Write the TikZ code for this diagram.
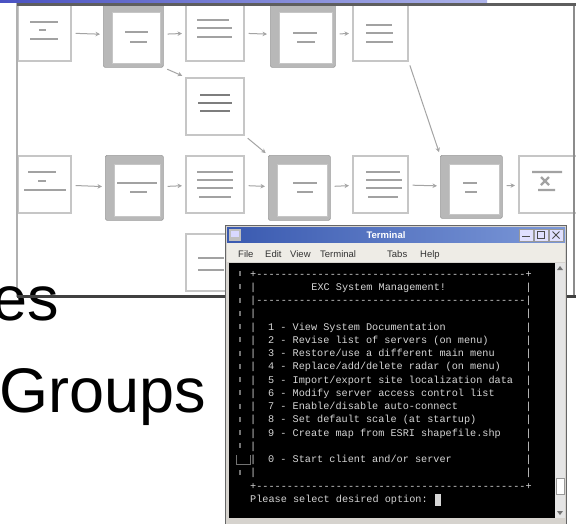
\documentclass[tikz,border=0pt]{standalone}
\usepackage{fontspec}
\setmainfont{Liberation Sans}
\setmonofont{Liberation Mono}
\usetikzlibrary{arrows.meta}

\definecolor{boxline}{HTML}{C6C6C6}
\definecolor{shadowgray}{HTML}{B8B8B8}
\definecolor{bargray}{HTML}{A2A2A2}
\definecolor{bardark}{HTML}{7E7E7E}
\definecolor{arrowgray}{HTML}{A4A4A4}
\definecolor{termtext}{HTML}{D6D6D6}
\definecolor{winframe}{HTML}{D6D3CE}
\definecolor{menubg}{HTML}{EEECE6}
\definecolor{titleA}{HTML}{3A5AB0}
\definecolor{titleB}{HTML}{7C98D8}
\definecolor{slideblueA}{HTML}{4A52C2}
\definecolor{slideblueB}{HTML}{AEB4EA}
\definecolor{paneltop}{HTML}{5E5E5E}
\definecolor{panelbot}{HTML}{404040}
\definecolor{panelside}{HTML}{B0B0B0}

\tikzset{
  plainbox/.style 2 args={draw=boxline, line width=1.6pt, fill=white, inner sep=0pt,
    anchor=north west, minimum width=#1, minimum height=#2},
  shadowbox/.style 2 args={draw=shadowgray!85!black, line width=0.6pt, fill=shadowgray, inner sep=0pt,
    rounded corners=1.5pt, anchor=north west, minimum width=#1, minimum height=#2},
  innerface/.style={fill=white, draw=boxline, line width=0.6pt},
  bar/.style={draw=bargray, line width=2.4pt},
  darkbar/.style={draw=bardark, line width=2.6pt},
  conn/.style={draw=arrowgray, line width=1pt, -{Stealth[length=4.5pt,width=4.5pt]},
    shorten >=3pt, shorten <=4pt},
  term/.style={font=\ttfamily\fontsize{10.2}{12}\selectfont, text=termtext, inner sep=0pt, anchor=base west},
  menu/.style={font=\fontsize{9.5}{11}\selectfont, text=black!80, inner sep=0pt, anchor=base west},
  slidetext/.style={font=\fontsize{63}{70}\selectfont, text=black, inner sep=0pt},
  tick/.style={draw=black!55, line width=1.2pt}
}

\begin{document}
\begin{tikzpicture}[x=1pt,y=-1pt]
\useasboundingbox (0,0) rectangle (576,523);
\clip (0,0) rectangle (576,523);
\fill[white] (0,0) rectangle (576,523);

% ---------- flowchart panel ----------
\fill[white] (17,3) rectangle (576,297);

% top row boxes
\node[plainbox={53pt}{57pt}] (t1) at (17,3) {};
\node[shadowbox={60pt}{64pt}] (t2) at (103,3) {};
\node[plainbox={58pt}{57pt}] (t3) at (185,3) {};
\node[shadowbox={65pt}{64pt}] (t4) at (270,3) {};
\node[plainbox={55pt}{57pt}] (t5) at (352,3) {};
\node[plainbox={58pt}{57pt}] (t6) at (185,77) {};

% bottom row boxes
\node[plainbox={53pt}{57pt}] (b1) at (17,155) {};
\node[shadowbox={58pt}{65pt}] (b2) at (105,155) {};
\node[plainbox={58pt}{57pt}] (b3) at (185,155) {};
\node[shadowbox={62pt}{65pt}] (b4) at (268,155) {};
\node[plainbox={55pt}{57pt}] (b5) at (352,155) {};
\node[shadowbox={62pt}{63pt}] (b6) at (440,155) {};
\node[plainbox={62pt}{57pt}] (b7) at (518,155) {};
\node[plainbox={62pt}{57pt}] (b8) at (185,233) {};

% white faces of the shadowed boxes
\foreach \n in {t2,t4,b2,b4,b6}
  \draw[innerface] ([xshift=9pt,yshift=-9pt]\n.north west) rectangle ([xshift=-3pt,yshift=4pt]\n.south east);

% blurred text lines inside boxes
\draw[bar] (30,22)--(58,22) (39,30)--(46,30) (30,39)--(58,39);
\draw[bar] (125,32)--(148,32) (130,42)--(147,42);
\draw[bar] (197,20)--(229,20) (197,28)--(232,28) (197,37)--(232,37);
\draw[bar] (293,33)--(317,33) (297,42)--(315,42);
\draw[bar] (366,25)--(392,25) (366,33)--(393,33) (366,42)--(393,42);
\draw[darkbar] (200,95)--(230,95) (198,103)--(232,103) (200,111)--(230,111);

\draw[bar] (28,172)--(56,172) (38,181)--(46,181) (24,190)--(66,190);
\draw[bar] (117,183)--(157,183) (130,192)--(147,192);
\draw[bar] (197,172)--(233,172) (197,180)--(233,180) (197,188)--(233,188) (199,197)--(231,197);
\draw[bar] (293,183)--(317,183) (297,192)--(313,192);
\draw[bar] (366,172)--(400,172) (366,180)--(402,180) (366,188)--(402,188) (368,197)--(398,197);
\draw[bar] (463,183)--(477,183) (465,192)--(477,192);
\draw[bar] (532,172)--(562,172) (541,177)--(549,185) (549,177)--(541,185) (538,190)--(555,190);
\draw[bar] (198,258)--(224,258) (198,270)--(224,270);

% connectors
\draw[conn] (t1) -- (t2);
\draw[conn] (t2) -- (t3);
\draw[conn] (t3) -- (t4);
\draw[conn] (t4) -- (t5);
\draw[conn] (t2.south east) -- (t6.north west);
\draw[conn] (t5.south east) -- (b6.north west);
\draw[conn] (t6.south east) -- (b4.north west);
\draw[conn] (b1) -- (b2);
\draw[conn] (b2) -- (b3);
\draw[conn] (b3) -- (b4);
\draw[conn] (b4) -- (b5);
\draw[conn] (b5) -- (b6);
\draw[conn] (b6) -- (b7);

% panel borders
\draw[panelside, line width=2pt] (17,3) -- (17,297);
\draw[black!45, line width=2pt] (574,3) -- (574,297);
\draw[paneltop, line width=3pt] (17,4) -- (576,4);

% slide title bar
\shade[left color=slideblueA, right color=slideblueB] (0,0) rectangle (487,2.6);

% slide text
\node[slidetext, anchor=base east] (es) at (59,320) {es};
\node[slidetext, anchor=base west] (groups) at (-1,412) {Groups};

\draw[panelbot, line width=3pt] (17,296.5) -- (576,296.5);

% ---------- terminal window ----------
\fill[winframe] (225,225) rectangle (567,524);
\draw[black!60, line width=0.8pt] (225.4,225.4) rectangle (566.6,524);
\shade[left color=titleA, right color=titleB] (227,227) rectangle (565,243);
\fill[black!25] (229,229) rectangle (241,241);
\fill[white!85!blue] (231,231) rectangle (239,237);
\node[font=\bfseries\fontsize{9.5}{11}\selectfont, text=white, inner sep=0pt] (title) at (386,235) {Terminal};
\foreach \bx in {519,534,549}
  \draw[fill=blue!12!white, draw=black!40, line width=0.5pt] (\bx,229) rectangle ++(14,12);
\draw[black!70, line width=1pt] (522,236) -- (530,236);
\draw[black!70, line width=0.8pt] (537.5,231.5) rectangle (544.5,238.5);
\draw[black!70, line width=1pt] (552.5,231.5) -- (559.5,238.5) (559.5,231.5) -- (552.5,238.5);

\fill[menubg] (227,243) rectangle (565,262);
\node[menu] (mfile) at (238,257) {File};
\node[menu] (medit) at (265,257) {Edit};
\node[menu] (mview) at (290,257) {View};
\node[menu] (mterm) at (320,257) {Terminal};
\node[menu] (mtabs) at (387,257) {Tabs};
\node[menu] (mhelp) at (420,257) {Help};

% terminal screen
\fill[black] (229,263) rectangle (555,518);
% scrollbar
\fill[black!10] (555,263) rectangle (565,518);
\fill[black!55] (557,270) -- (563,270) -- (560,266) -- cycle;
\fill[black!55] (557,511) -- (563,511) -- (560,515) -- cycle;
\fill[white] (556,478) rectangle (564,494);
\draw[black!40, line width=0.5pt] (556,478) rectangle (564,494);

% left gutter marks
\foreach \k in {0,...,13,15}
  \draw[tick] (240,{273.5+\k*13.25-2.5}) -- (240,{273.5+\k*13.25+2.5});
\draw[black!55, line width=1pt] (236,455) -- (236,464) -- (250,464) -- (250,455);

% terminal text
\node[term] (l0) at (250,277) {+--------------------------------------------+};
\node[term] (l1a) at (250,290.25) {|};
\node[term] (l1) at (311.2,290.25) {EXC System Management!};
\node[term] (l1b) at (525.4,290.25) {|};
\node[term] (l2) at (250,303.5) {|--------------------------------------------|};
\foreach \yy in {316.75,330,343.25,356.5,369.75,383,396.25,409.5,422.75,436,449.25,462.5,475.75}{
  \node[term] at (250,\yy) {|};
  \node[term] at (525.4,\yy) {|};
}
\node[term] (o1) at (268,330) {1 - View System Documentation};
\node[term] (o2) at (268,343.25) {2 - Revise list of servers (on menu)};
\node[term] (o3) at (268,356.5) {3 - Restore/use a different main menu};
\node[term] (o4) at (268,369.75) {4 - Replace/add/delete radar (on menu)};
\node[term] (o5) at (268,383) {5 - Import/export site localization data};
\node[term] (o6) at (268,396.25) {6 - Modify server access control list};
\node[term] (o7) at (268,409.5) {7 - Enable/disable auto-connect};
\node[term] (o8) at (268,422.75) {8 - Set default scale (at startup)};
\node[term] (o9) at (268,436) {9 - Create map from ESRI shapefile.shp};
\node[term] (o0) at (268,462.5) {0 - Start client and/or server};
\node[term] (l16) at (250,489) {+--------------------------------------------+};
\node[term] (prompt) at (250,502.25) {Please select desired option:};
\fill[termtext] (435,494) rectangle (441,506);
\end{tikzpicture}
\end{document}
